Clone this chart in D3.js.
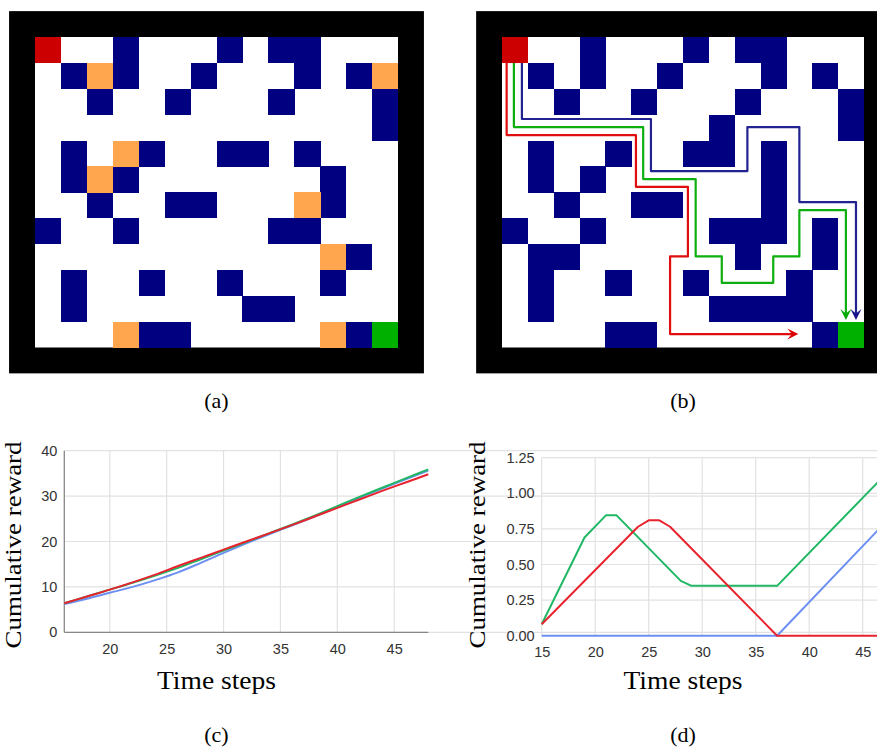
<!DOCTYPE html>
<html><head><meta charset="utf-8">
<script src="https://cdn.jsdelivr.net/npm/d3@7"></script>
<style>html,body{margin:0;padding:0;background:#fff;}svg{display:block;}</style>
</head><body>
<svg id="fig" width="877" height="749"></svg>
<script>
// ---------- DATA ----------
const gridCols = 14, gridRows = 12;
// maze (a): [row, col]
const wallsA = [[0,3],[0,7],[0,9],[0,10],[1,1],[1,3],[1,6],[1,10],[1,12],[2,2],[2,5],[2,9],[2,13],[3,13],
  [4,1],[4,4],[4,7],[4,8],[4,10],[5,1],[5,3],[5,11],[6,2],[6,5],[6,6],[6,11],[7,0],[7,3],[7,9],[7,10],
  [8,12],[9,1],[9,4],[9,7],[9,11],[10,1],[10,8],[10,9],[11,4],[11,5],[11,12]];
const rewardsA = [[1,2],[1,13],[4,3],[5,2],[6,10],[8,11],[11,3],[11,11]];
const startA = [0,0], goalA = [11,13];
// maze (b)
const wallsB = [[0,3],[0,7],[0,9],[0,10],[1,1],[1,3],[1,6],[1,10],[1,12],[2,2],[2,5],[2,9],[2,13],[3,8],[3,13],
  [4,1],[4,4],[4,7],[4,8],[4,10],[5,1],[5,3],[5,10],[6,2],[6,5],[6,6],[6,10],[7,0],[7,3],[7,8],[7,9],[7,10],[7,12],
  [8,1],[8,2],[8,9],[8,12],[9,1],[9,4],[9,7],[9,11],[10,1],[10,8],[10,9],[10,10],[10,11],[11,4],[11,5],[11,12]];
const startB = [0,0], goalB = [11,13];
// agent paths in (b), vertices as [col, row]
const pathBlue  = [[0.77,1.0],[0.77,3.17],[5.76,3.17],[5.76,5.18],[9.49,5.18],[9.49,3.48],[11.5,3.48],[11.5,6.38],[13.69,6.38],[13.69,10.94]];
const pathGreen = [[0.46,1.0],[0.46,3.48],[5.46,3.48],[5.46,5.49],[7.49,5.49],[7.49,8.48],[8.5,8.48],[8.5,9.5],[10.49,9.5],[10.49,8.48],[11.5,8.48],[11.5,6.69],[13.3,6.69],[13.3,10.94]];
const pathRed   = [[0.18,1.0],[0.18,3.79],[5.18,3.79],[5.18,5.79],[7.19,5.79],[7.19,8.48],[6.5,8.48],[6.5,11.48],[11.46,11.48]];

// chart (c)
const stepsC = [16,18,20,22,24,26,28,30,32,34,36,38,40,42,44,46,48];
const cGreen = [6.4,7.9,9.4,10.9,12.5,14.2,16.1,18.0,19.9,21.8,23.7,25.7,27.8,29.9,31.9,33.9,35.9];
const cRed   = [6.4,7.9,9.4,11.0,12.7,14.6,16.4,18.2,20.0,21.8,23.6,25.5,27.4,29.3,31.2,33.0,34.8];
const cBlue  = [6.2,7.4,8.7,10.0,11.5,13.2,15.3,17.5,19.6,21.6,23.5,25.5,27.6,29.7,31.7,33.7,35.6];
const cTicksX = [20,25,30,35,40,45];
const cTicksY = [0,10,20,30,40];

// chart (d)
const dGreenX = [15,19,21,22,28,29,37,48];
const dGreenY = [0.08,0.69,0.845,0.845,0.385,0.35,0.35,1.20];
const dRedX = [15,24,25,26,27,37,48];
const dRedY = [0.08,0.765,0.81,0.81,0.765,0.0,0.0];
const dBlueX = [15,37,48];
const dBlueY = [0.0,0.0,0.865];
const dTicksX = [15,20,25,30,35,40,45];
const dTicksY = [0,0.25,0.5,0.75,1.0,1.25];

const panelLabels = ["(a)","(b)","(c)","(d)"];

// ---------- DRAW ----------
const svg = d3.select("#fig");
const C = {navy:"#000080", red:"#cc0000", orange:"#ffa64f", green:"#00b000", black:"#000"};
const serif = "'Liberation Serif','Times New Roman',serif";
const sans = "'Liberation Sans',Arial,sans-serif";

function drawMaze(g, x, y, walls, rewards, start, goal) {
  g.append("rect").attr("x", x(-1)).attr("y", y(-1)).attr("width", x(15)-x(-1)).attr("height", y(13)-y(-1)).attr("fill", C.black);
  g.append("rect").attr("x", x(0)).attr("y", y(0)).attr("width", x(14)-x(0)).attr("height", y(12)-y(0)).attr("fill", "#fff");
  const cell = (arr, fill) => g.selectAll(null).data(arr).enter().append("rect")
    .attr("x", d => x(d[1])).attr("y", d => y(d[0]))
    .attr("width", d => x(d[1]+1)-x(d[1])+0.3).attr("height", d => y(d[0]+1)-y(d[0])+0.3)
    .attr("fill", fill).attr("shape-rendering","crispEdges");
  cell(walls, C.navy);
  cell(rewards, C.orange);
  cell([start], C.red);
  cell([goal], C.green);
}

const yM = d3.scaleLinear().domain([0,12]).range([37,347.5]);
const xA = d3.scaleLinear().domain([0,14]).range([35,398]);
const xB = d3.scaleLinear().domain([0,14]).range([502,864]);
drawMaze(svg.append("g"), xA, yM, wallsA, rewardsA, startA, goalA);
drawMaze(svg.append("g"), xB, yM, wallsB, [], startB, goalB);

// paths with arrowheads
const pathLine = d3.line().x(d => xB(d[0])).y(d => yM(d[1]));
function drawPath(pts, color) {
  const g = svg.append("g");
  const n = pts.length;
  const p1 = pts[n-2], p2 = pts[n-1];
  const X1 = xB(p1[0]), Y1 = yM(p1[1]), X2 = xB(p2[0]), Y2 = yM(p2[1]);
  const ang = Math.atan2(Y2-Y1, X2-X1);
  g.append("path").attr("d", pathLine(pts.slice(0,n-1)) + `L${X2-6*Math.cos(ang)},${Y2-6*Math.sin(ang)}`)
    .attr("fill","none").attr("stroke", color).attr("stroke-width", 2.2).attr("stroke-linejoin","round")
    .attr("stroke-opacity", 0.95);
  const L = 11, W = 5.5, notch = 6.5;
  const pts2 = [[0,0],[-L,-W],[-notch,0],[-L,W]].map(([a,b]) =>
    [X2 + a*Math.cos(ang) - b*Math.sin(ang), Y2 + a*Math.sin(ang) + b*Math.cos(ang)]);
  g.append("path").attr("d", "M" + pts2.map(p => p.join(",")).join("L") + "Z").attr("fill", color);
}
drawPath(pathBlue, "#16168a");
drawPath(pathGreen, "#00aa00");
drawPath(pathRed, "#dd0000");

// ---------- charts ----------
const colGreen = "#20b765", colRed = "#e8232d", colBlue = "#6d8ff2";
function drawChart(opt) {
  const g = svg.append("g");
  const {x, y, ticksX, ticksY, fmtY, axisLines} = opt;
  const [x0, x1] = x.range(), [y0, y1] = y.range();
  g.selectAll(null).data(ticksY).enter().append("line")
    .attr("x1", x0).attr("x2", Math.max(x1, 877)).attr("y1", d => y(d)).attr("y2", d => y(d))
    .attr("stroke", "#e2e2e2").attr("stroke-width", 1.2);
  g.selectAll(null).data(ticksX).enter().append("line")
    .attr("x1", d => x(d)).attr("x2", d => x(d)).attr("y1", y0).attr("y2", y1)
    .attr("stroke", "#e2e2e2").attr("stroke-width", 1.2);
  if (axisLines) {
    g.append("line").attr("x1", x0).attr("x2", x0).attr("y1", y0).attr("y2", y1).attr("stroke", "#888").attr("stroke-width", 1.3);
    g.append("line").attr("x1", x0).attr("x2", x1).attr("y1", y0).attr("y2", y0).attr("stroke", "#888").attr("stroke-width", 1.3);
  }
  const ax = g.append("g").attr("transform", `translate(0,${y0})`)
    .call(d3.axisBottom(x).tickValues(ticksX).tickSize(0).tickPadding(opt.padX));
  const ay = g.append("g").attr("transform", `translate(${x0},0)`)
    .call(d3.axisLeft(y).tickValues(ticksY).tickSize(0).tickPadding(7).tickFormat(fmtY));
  [ax, ay].forEach(a => {
    a.select(".domain").remove();
    a.selectAll("text").attr("font-family", sans).attr("font-size", 14.5).attr("fill", "#333");
  });
  opt.series.forEach(s => {
    g.append("path").datum(s.xs.map((v,i) => [v, s.ys[i]]))
      .attr("d", d3.line().x(d => x(d[0])).y(d => y(d[1])).curve(opt.curve))
      .attr("fill","none").attr("stroke", s.color).attr("stroke-width", 2).attr("stroke-linejoin","round");
  });
  g.append("text").attr("x", opt.titleX).attr("y", 689).attr("text-anchor","middle")
    .attr("font-family", serif).attr("font-size", 25).attr("textLength", 119).attr("lengthAdjust","spacingAndGlyphs")
    .attr("fill","#000").text("Time steps");
  g.append("text").attr("transform", `translate(${opt.ylabX},545) rotate(-90)`).attr("text-anchor","middle")
    .attr("font-family", serif).attr("font-size", 23).attr("textLength", 207).attr("lengthAdjust","spacingAndGlyphs")
    .attr("fill","#000").text("Cumulative reward");
}

drawChart({
  x: d3.scaleLinear().domain([16,48]).range([64.3,428.3]),
  y: d3.scaleLinear().domain([0,40]).range([632.3,450.7]),
  ticksX: cTicksX, ticksY: cTicksY, fmtY: d3.format("d"), axisLines: true, padX: 11,
  curve: d3.curveMonotoneX,
  series: [{xs: stepsC, ys: cBlue, color: colBlue},{xs: stepsC, ys: cGreen, color: colGreen},{xs: stepsC, ys: cRed, color: colRed}],
  titleX: 216.5, ylabX: 20.5
});
drawChart({
  x: d3.scaleLinear().domain([15,48]).range([541.7,894.8]),
  y: d3.scaleLinear().domain([0,1.25]).range([635.7,457.7]),
  ticksX: dTicksX, ticksY: dTicksY, fmtY: d3.format(".2f"), axisLines: false, padX: 11,
  curve: d3.curveLinear,
  series: [{xs: dBlueX, ys: dBlueY, color: colBlue},{xs: dGreenX, ys: dGreenY, color: colGreen},{xs: dRedX, ys: dRedY, color: colRed}],
  titleX: 683, ylabX: 485
});

// panel labels
const labelPos = [[216.5,408],[683,408],[216.5,742],[683,742]];
svg.selectAll(null).data(panelLabels).enter().append("text")
  .attr("x", (d,i) => labelPos[i][0]).attr("y", (d,i) => labelPos[i][1])
  .attr("text-anchor","middle").attr("font-family", serif).attr("font-size", 22).attr("fill","#000")
  .text(d => d);
</script>
</body></html>
